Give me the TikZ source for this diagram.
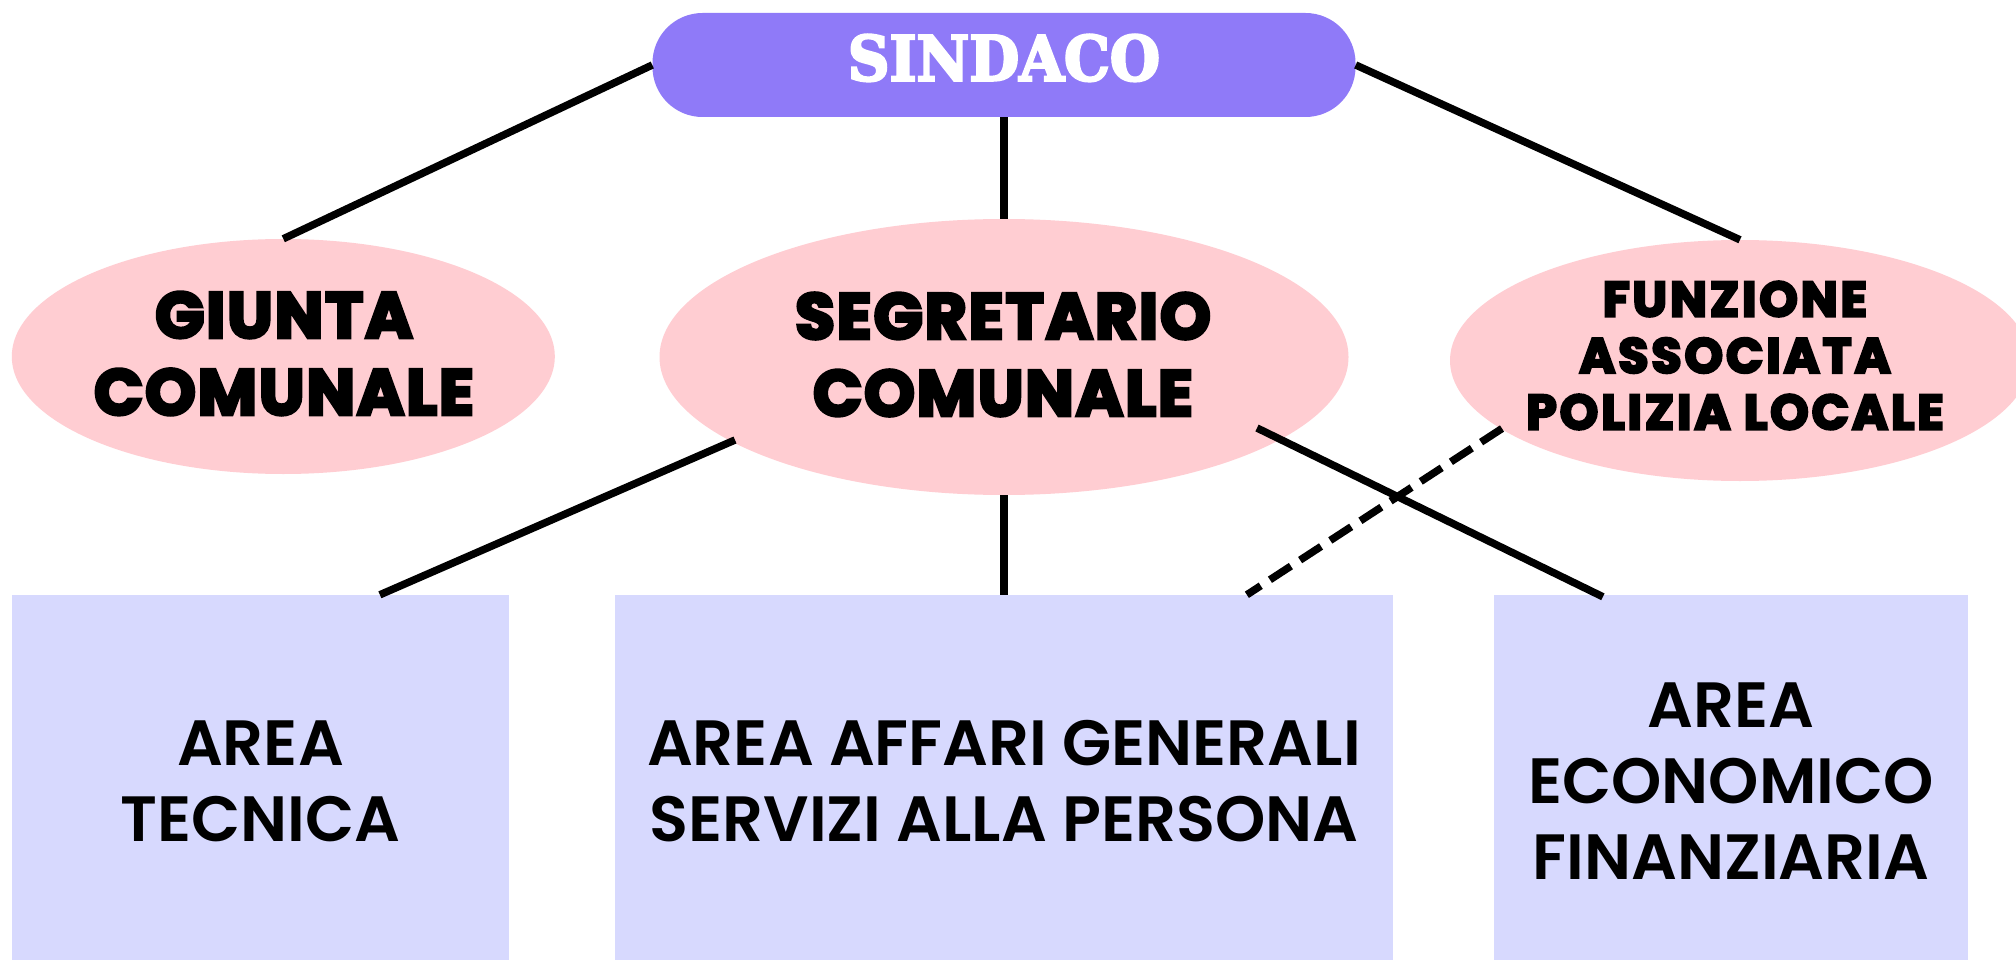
\documentclass[tikz,border=0pt]{standalone}
\usepackage{fontspec}
\usetikzlibrary{calc,shapes.geometric}
\newfontfamily\heavyfont{Poppins}[FakeBold=5, LetterSpace=3]
\newfontfamily\heavywidefont{Poppins}[FakeBold=5, LetterSpace=6]
\IfFontExistsTF{Poppins SemiBold}
  {\newfontfamily\boxfont{Poppins SemiBold}}
  {\newfontfamily\boxfont{Poppins}[FakeBold=2.5]}
\newfontfamily\slabfont{DejaVu Serif}[FakeBold=4]
\definecolor{sindacoc}{HTML}{8F7AF8}
\definecolor{ellc}{HTML}{FFCDD2}
\definecolor{boxc}{HTML}{D7D9FE}
\begin{document}
\begin{tikzpicture}[x=1pt,y=-1pt,
  conn/.style={draw=black, line width=7.5pt},
  dashconn/.style={conn, dash pattern=on 25pt off 11pt},
  sindacobox/.style={fill=sindacoc, rounded corners=50pt, minimum width=703pt, minimum height=104pt, inner sep=0pt, text=white, font=\slabfont\bfseries\fontsize{62}{74}\selectfont, text depth=15pt},
  pinkell/.style={ellipse, fill=ellc, inner sep=0pt},
  heavytext/.style={inner sep=0pt, align=center, text=black, font=\heavyfont\bfseries\fontsize{64.5}{77}\selectfont},
  smallheavy/.style={inner sep=0pt, align=center, text=black, font=\heavywidefont\bfseries\fontsize{49}{56.5}\selectfont},
  areabox/.style={fill=boxc, inner sep=0pt, minimum height=372pt, align=center, text=black, font=\boxfont\fontsize{64}{76}\selectfont}
]
\useasboundingbox (0,0) rectangle (2016,960);
\clip (0,0) rectangle (2016,960);
\fill[white] (0,0) rectangle (2016,960);

\node[sindacobox] (sin) at (1004,65) {\scalebox{0.93}[1]{SINDACO}};

\node[pinkell, minimum width=543pt, minimum height=235pt] (giu) at (283.3,356.5) {};
\node[pinkell, minimum width=689pt, minimum height=276pt] (seg) at (1004,357) {};
\node[pinkell, minimum width=580pt, minimum height=241pt] (fun) at (1740,360.5) {};

\node[heavytext] (giut) at (284,353.5) {GIUNTA\\COMUNALE};
\node[heavytext] (segt) at (1003,354.5) {SEGRETARIO\\COMUNALE};
\node[smallheavy] (funt) at (1735,355.5) {FUNZIONE\\ASSOCIATA\\POLIZIA LOCALE};

\node[areabox, minimum width=497pt] (tec) at (260.5,781) {AREA\\TECNICA};
\node[areabox, minimum width=778pt] (mid) at (1004,781) {AREA AFFARI GENERALI\\SERVIZI ALLA PERSONA};
\node[areabox, minimum width=474pt] (eco) at (1731,781) {AREA\\ECONOMICO\\FINANZIARIA};

\draw[conn] (sin.west) -- (giu.north);
\draw[conn] (sin.south) -- (seg.north);
\draw[conn] (sin.east) -- (fun.north);
\draw[conn] ($(seg.center)+(-269,83)$) -- ($(tec.north west)!0.74!(tec.north east)$);
\draw[conn] (seg.south) -- (mid.north);
\draw[dashconn] ($(fun.center)+(-238,68)$) -- ($(mid.north west)!0.812!(mid.north east)$);
\draw[conn] ($(seg.center)+(253,71)$) -- ($(eco.north west)!0.23!(eco.north east)+(0,2)$);
\end{tikzpicture}
\end{document}
